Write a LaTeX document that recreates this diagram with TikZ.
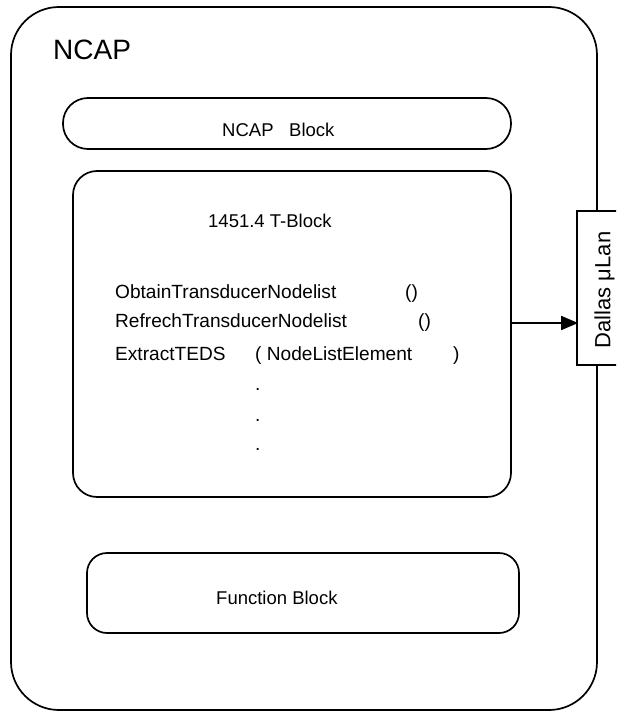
\documentclass[tikz,border=0pt]{standalone}
\usepackage{fontspec}
\setmainfont{Liberation Sans}
\usetikzlibrary{arrows.meta}
\begin{document}
\begin{tikzpicture}[x=1pt,y=-1pt,
  box/.style={draw,line width=1.7pt,rectangle,inner sep=0pt},
  txt/.style={anchor=base west,inner sep=0pt,font=\fontsize{18.5}{22}\selectfont},
  mtxt/.style={anchor=base west,inner sep=0pt,font=\fontsize{19.1}{22}\selectfont}]
\useasboundingbox (0,0) rectangle (616,711);
\clip (0,0) rectangle (616,711);
\fill[white] (0,0) rectangle (616,711);
\node[box,rounded corners=48pt,minimum width=586pt,minimum height=703pt] (outer) at (304,358.5) {};
\node[box,rounded corners=25pt,minimum width=448pt,minimum height=51pt] (ncapblock) at (287,123.5) {};
\node[box,rounded corners=24pt,minimum width=438pt,minimum height=326pt] (tblock) at (292,334) {};
\node[box,rounded corners=20pt,minimum width=432pt,minimum height=80pt] (fblock) at (303,593) {};
\node[box,fill=white,minimum width=60pt,minimum height=154pt] (dallas) at (607,288) {};
\node[rotate=90,inner sep=0pt,font=\fontsize{22}{25}\selectfont] (dallastext) at (604.5,290) {Dallas μLan};
\coordinate (arr) at (0,323);
\draw[line width=1.7pt,-{Triangle[length=17pt,width=14pt]}] (tblock.east |- arr) -- ([xshift=2pt]dallas.west |- arr);
\node[anchor=base west,inner sep=0pt,font=\fontsize{28}{32}\selectfont] (ncap) at (53,60) {NCAP};
\node[txt] (nb1) at (222,137) {NCAP};
\node[txt] (nb2) at (289,137) {Block};
\node[txt] (tb) at (208,227) {1451.4 T-Block};
\node[mtxt] (m1) at (115,298) {ObtainTransducerNodelist};
\node[mtxt] (m1p) at (405,298) {()};
\node[mtxt] (m2) at (115,327) {RefrechTransducerNodelist};
\node[mtxt] (m2p) at (418,327) {()};
\node[mtxt] (m3) at (115,360) {ExtractTEDS};
\node[mtxt] (m3a) at (255,360) {( NodeListElement};
\node[mtxt] (m3b) at (453,360) {)};
\node[mtxt] (d1) at (255,390) {.};
\node[mtxt] (d2) at (255,421) {.};
\node[mtxt] (d3) at (255,450) {.};
\node[txt] (fb) at (216,604) {Function Block};
\end{tikzpicture}
\end{document}
